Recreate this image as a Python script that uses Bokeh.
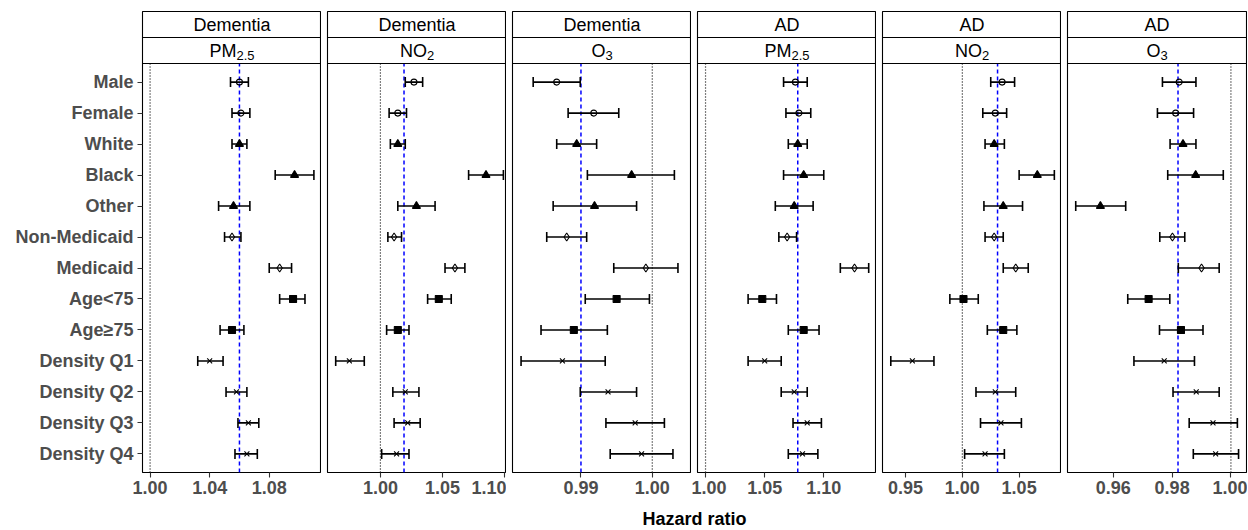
from bokeh.plotting import figure
from bokeh.models import (Range1d, FixedTicker, NumeralTickFormatter, Label, Span,
                          Whisker, TeeHead, ColumnDataSource)
from bokeh.layouts import row, column
from bokeh.embed import file_html
from bokeh.resources import INLINE

# ---------------- data ----------------
categories = ["Male", "Female", "White", "Black", "Other", "Non-Medicaid", "Medicaid",
              "Age<75", "Age\u226575", "Density Q1", "Density Q2", "Density Q3", "Density Q4"]
groups = ["sex", "sex", "race", "race", "race", "medicaid", "medicaid",
          "age", "age", "density", "density", "density", "density"]

outcomes = ["Dementia", "Dementia", "Dementia", "AD", "AD", "AD"]
pollutant_base = ["PM", "NO", "O", "PM", "NO", "O"]
pollutant_sub = ["2.5", "2", "3", "2.5", "2", "3"]

dem_pm25_est = [1.060, 1.061, 1.060, 1.097, 1.056, 1.055, 1.087, 1.096, 1.055, 1.040, 1.058, 1.066, 1.065]
dem_pm25_lo = [1.054, 1.055, 1.055, 1.084, 1.046, 1.050, 1.080, 1.087, 1.047, 1.032, 1.051, 1.059, 1.057]
dem_pm25_hi = [1.066, 1.067, 1.065, 1.110, 1.067, 1.061, 1.095, 1.104, 1.063, 1.049, 1.065, 1.073, 1.072]

dem_no2_est = [1.027, 1.014, 1.014, 1.085, 1.029, 1.011, 1.060, 1.047, 1.014, 0.975, 1.020, 1.022, 1.013]
dem_no2_lo = [1.020, 1.007, 1.008, 1.071, 1.014, 1.006, 1.052, 1.038, 1.005, 0.964, 1.010, 1.011, 1.001]
dem_no2_hi = [1.034, 1.021, 1.020, 1.099, 1.044, 1.017, 1.068, 1.057, 1.023, 0.987, 1.031, 1.032, 1.023]

dem_o3_est = [0.9866, 0.9918, 0.9894, 0.9971, 0.9919, 0.9880, 0.9991, 0.9950, 0.9890, 0.9874, 0.9938, 0.9976, 0.9985]
dem_o3_lo = [0.9833, 0.9882, 0.9866, 0.9909, 0.9861, 0.9852, 0.9946, 0.9906, 0.9844, 0.9816, 0.9899, 0.9935, 0.9941]
dem_o3_hi = [0.9899, 0.9953, 0.9922, 1.0031, 0.9978, 0.9908, 1.0036, 0.9996, 0.9937, 0.9934, 0.9978, 1.0017, 1.0029]

ad_pm25_est = [1.076, 1.079, 1.078, 1.083, 1.075, 1.069, 1.126, 1.048, 1.083, 1.050, 1.075, 1.086, 1.082]
ad_pm25_lo = [1.066, 1.068, 1.070, 1.066, 1.059, 1.062, 1.114, 1.036, 1.070, 1.036, 1.064, 1.074, 1.070]
ad_pm25_hi = [1.086, 1.089, 1.086, 1.100, 1.091, 1.077, 1.138, 1.060, 1.096, 1.064, 1.086, 1.098, 1.095]

ad_no2_est = [1.035, 1.029, 1.028, 1.066, 1.036, 1.028, 1.047, 1.001, 1.036, 0.956, 1.029, 1.034, 1.020]
ad_no2_lo = [1.025, 1.018, 1.020, 1.050, 1.019, 1.020, 1.036, 0.989, 1.022, 0.937, 1.012, 1.016, 1.002]
ad_no2_hi = [1.046, 1.039, 1.037, 1.081, 1.053, 1.036, 1.058, 1.014, 1.048, 0.975, 1.047, 1.052, 1.037]

ad_o3_est = [0.9824, 0.9812, 0.9837, 0.9880, 0.9556, 0.9801, 0.9900, 0.9720, 0.9830, 0.9773, 0.9882, 0.9939, 0.9948]
ad_o3_lo = [0.9767, 0.9750, 0.9793, 0.9785, 0.9472, 0.9758, 0.9821, 0.9649, 0.9757, 0.9670, 0.9803, 0.9858, 0.9872]
ad_o3_hi = [0.9881, 0.9873, 0.9881, 0.9974, 0.9642, 0.9843, 0.9960, 0.9792, 0.9905, 0.9876, 0.9960, 1.0022, 1.0026]

overall_hr = [1.060, 1.019, 0.990, 1.078, 1.031, 0.982]
null_hr = 1.0

x_limits = [(0.9949, 1.1151), (0.9574, 1.1015), (0.9804, 1.0055),
            (0.9932, 1.1446), (0.9297, 1.0873), (0.9444, 1.0053)]
x_ticks = [[1.00, 1.04, 1.08], [1.00, 1.05, 1.10], [0.99, 1.00],
           [1.00, 1.05, 1.10], [0.95, 1.00, 1.05], [0.96, 0.98, 1.00]]

panel_est = [dem_pm25_est, dem_no2_est, dem_o3_est, ad_pm25_est, ad_no2_est, ad_o3_est]
panel_lo = [dem_pm25_lo, dem_no2_lo, dem_o3_lo, ad_pm25_lo, ad_no2_lo, ad_o3_lo]
panel_hi = [dem_pm25_hi, dem_no2_hi, dem_o3_hi, ad_pm25_hi, ad_no2_hi, ad_o3_hi]

# ---------------- styles ----------------
FONT = "Liberation Sans"
marker_of = {"sex": "circle", "race": "triangle", "medicaid": "diamond", "age": "square", "density": "x"}
size_of = {"sex": 6, "race": 8, "medicaid": 8, "age": 7, "density": 7}
fill_of = {"sex": 0.0, "race": 1.0, "medicaid": 0.0, "age": 1.0, "density": 0.0}

# Arial advance widths (em) for centring the strip texts
ADV = {"P": 0.667, "M": 0.833, "N": 0.722, "O": 0.778, "2": 0.556, "3": 0.556, "5": 0.556, ".": 0.278}
def tw(s, size):
    return sum(ADV[c] for c in s) * size

LEFT = 142
GAP = 6
FRAME_W = 179
PANEL_H = 409
STRIP_H = 26
TOP = 11
BOTTOM = 30
Y0, Y1 = 0.4, 13.6
upp = (Y1 - Y0) / PANEL_H
YTOP = Y1 + 2 * STRIP_H * upp

n = len(categories)
ypos = [n - k for k in range(n)]

figs = []
for i in range(6):
    first = i == 0
    last = i == 5
    p = figure(frame_width=FRAME_W, frame_height=PANEL_H + 2 * STRIP_H,
               x_range=Range1d(*x_limits[i]), y_range=Range1d(Y0, YTOP),
               output_backend="svg", toolbar_location=None,
               y_axis_location="left" if first else None,
               min_border_left=LEFT if first else GAP, min_border_right=1 if last else 0,
               min_border_top=TOP, min_border_bottom=BOTTOM,
               background_fill_color="white", border_fill_color="white")
    p.outline_line_color = "black"
    p.outline_line_width = 1.1
    p.grid.visible = False

    # x axis
    xa = p.xaxis[0]
    xa.ticker = FixedTicker(ticks=x_ticks[i])
    xa.formatter = NumeralTickFormatter(format="0.00")
    xa.axis_line_color = None
    xa.major_tick_line_color = "#333333"
    xa.major_tick_line_width = 1.1
    xa.major_tick_out = 5
    xa.major_tick_in = 0
    xa.minor_tick_line_color = None
    xa.major_label_text_font = FONT
    xa.major_label_text_font_style = "bold"
    xa.major_label_text_font_size = "18px"
    xa.major_label_text_color = "#4D4D4D"
    xa.major_label_standoff = 3

    if first:
        ya = p.yaxis[0]
        ya.ticker = FixedTicker(ticks=ypos)
        ya.major_label_overrides = {yv: c for yv, c in zip(ypos, categories)}
        ya.axis_line_color = None
        ya.major_tick_line_color = "#333333"
        ya.major_tick_line_width = 1.1
        ya.major_tick_out = 5
        ya.major_tick_in = 0
        ya.minor_tick_line_color = None
        ya.major_label_text_font = FONT
        ya.major_label_text_font_style = "bold"
        ya.major_label_text_font_size = "18px"
        ya.major_label_text_color = "#4D4D4D"
        ya.major_label_standoff = 4

    # reference lines
    p.segment(x0=[null_hr], x1=[null_hr], y0=[Y0], y1=[Y1], line_color="black",
              line_width=1.2, line_dash="1 2")
    p.segment(x0=[overall_hr[i]], x1=[overall_hr[i]], y0=[Y0], y1=[Y1], line_color="#0000FF",
              line_width=1.5, line_dash="4 3")

    src = ColumnDataSource(dict(
        y=ypos, est=panel_est[i], lo=panel_lo[i], hi=panel_hi[i],
        marker=[marker_of[g] for g in groups],
        size=[size_of[g] for g in groups],
        falpha=[fill_of[g] for g in groups],
    ))
    wh = Whisker(source=src, base="y", lower="lo", upper="hi", dimension="width",
                 line_color="black", line_width=1.6, level="glyph",
                 lower_head=TeeHead(size=10, line_color="black", line_width=1.6),
                 upper_head=TeeHead(size=10, line_color="black", line_width=1.6))
    p.add_layout(wh)
    p.scatter(x="est", y="y", marker="marker", size="size", source=src,
              line_color="black", line_width=1.1, fill_color="black", fill_alpha="falpha")

    # strips
    p.add_layout(Span(location=Y1, dimension="width", line_color="black", line_width=1.1))
    p.add_layout(Span(location=Y1 + STRIP_H * upp, dimension="width", line_color="black", line_width=1.1))
    xc = (x_limits[i][0] + x_limits[i][1]) / 2
    p.add_layout(Label(x=xc, y=Y1 + 1.5 * STRIP_H * upp, text=outcomes[i],
                       text_align="center", text_baseline="middle",
                       text_font=FONT, text_font_size="18px", text_color="black"))
    wb = tw(pollutant_base[i], 18)
    ws = tw(pollutant_sub[i], 13)
    junction = (wb - ws) / 2
    ys = Y1 + 0.5 * STRIP_H * upp
    p.add_layout(Label(x=xc, y=ys, x_offset=junction, text=pollutant_base[i],
                       text_align="right", text_baseline="middle",
                       text_font=FONT, text_font_size="18px", text_color="black"))
    p.add_layout(Label(x=xc, y=ys, x_offset=junction, y_offset=-5, text=pollutant_sub[i],
                       text_align="left", text_baseline="middle",
                       text_font=FONT, text_font_size="13px", text_color="black"))
    figs.append(p)

# x-axis title
TOTAL_W = LEFT + 6 * FRAME_W + 5 * GAP + 1
LAB_H = 28
lab = figure(width=TOTAL_W, height=LAB_H, x_range=Range1d(0, TOTAL_W), y_range=Range1d(0, LAB_H),
             x_axis_location=None, y_axis_location=None, toolbar_location=None,
             output_backend="svg", min_border=0)
lab.outline_line_color = None
lab.grid.visible = False
lab.add_layout(Label(x=LEFT + (6 * FRAME_W + 5 * GAP) / 2, y=LAB_H - 16, text="Hazard ratio",
                     text_align="center", text_baseline="middle", text_font=FONT,
                     text_font_style="bold", text_font_size="18px", text_color="black"))

layout = column(row(*figs), lab)
open("out.html", "w").write(file_html(layout, INLINE))
